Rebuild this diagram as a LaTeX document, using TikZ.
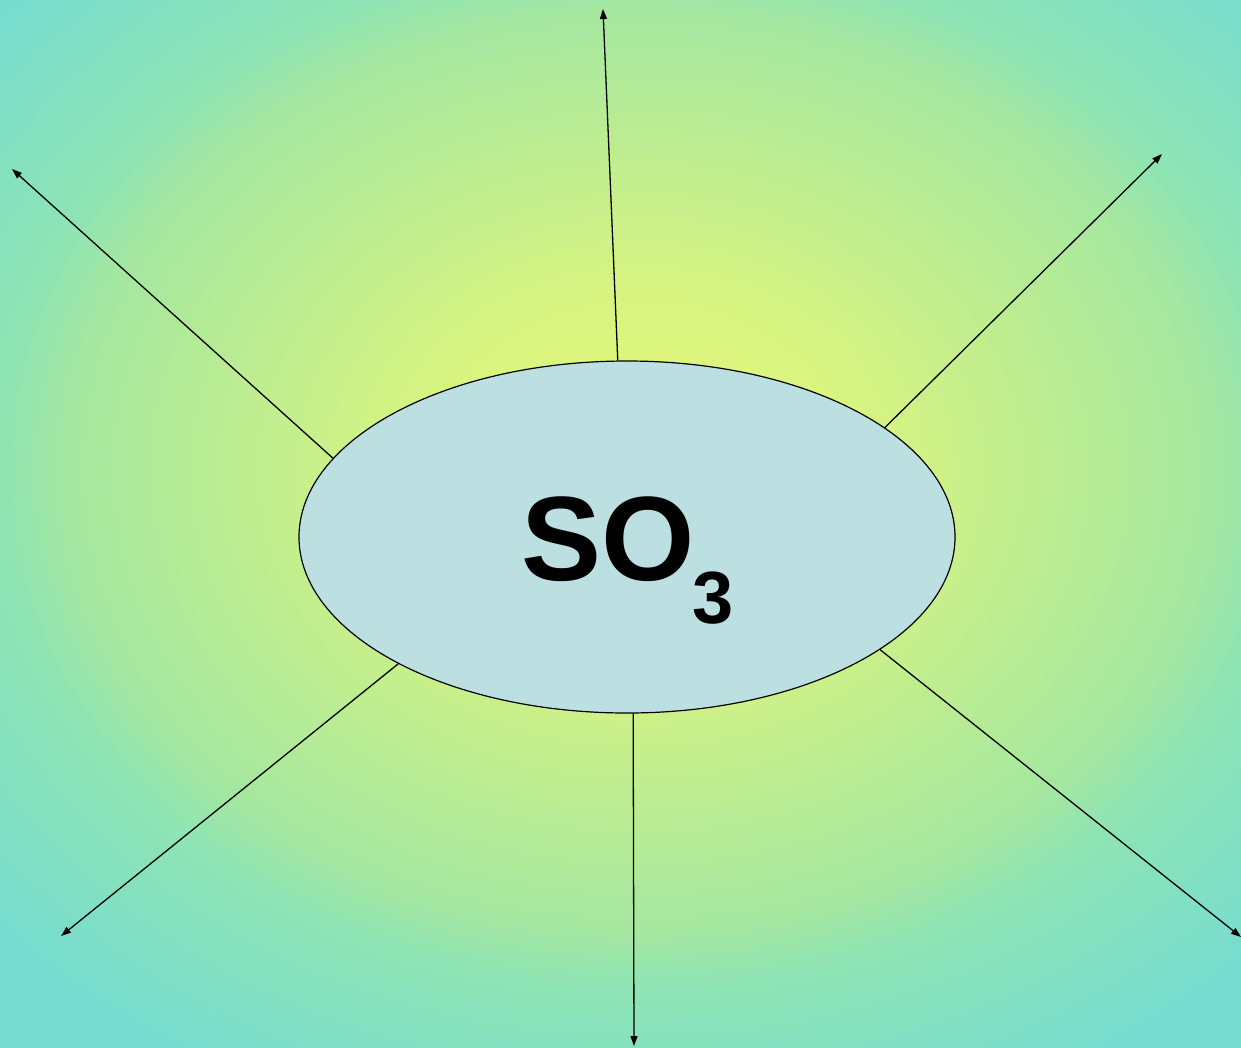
\documentclass[tikz,border=0pt]{standalone}
\usepackage{fontspec}
\setmainfont{Liberation Sans}
\usetikzlibrary{arrows.meta,shapes.geometric}
\definecolor{glowyellow}{RGB}{230,248,120}
\definecolor{glowlime}{RGB}{216,244,128}
\definecolor{glowgreen}{RGB}{165,231,160}
\definecolor{glowmint}{RGB}{142,228,180}
\definecolor{glowteal}{RGB}{118,220,208}
\definecolor{oxblue}{RGB}{188,224,226}
\pgfdeclareradialshading{bgglow}{\pgfpoint{0bp}{0bp}}{%
  color(0bp)=(glowyellow); color(12bp)=(glowlime); color(31bp)=(glowgreen);
  color(35bp)=(glowmint); color(47bp)=(glowteal); color(50bp)=(glowteal)}
\tikzset{
  molecule/.style={ellipse,draw=black,line width=1.2pt,fill=oxblue,
    minimum width=656pt,minimum height=352pt,inner sep=0pt},
  formula/.style={anchor=base west,inner sep=0pt,font=\bfseries},
  ray/.style={-{Triangle[length=10pt,width=7pt]},line width=1.3pt,draw=black}
}

\begin{document}
\begin{tikzpicture}[x=1pt,y=-1pt]
  \useasboundingbox (0,0) rectangle (1241,1047);
  % background glow
  \begin{scope}
    \clip (-4,-4) rectangle (1245,1051);
    \fill[glowteal] (-4,-4) rectangle (1245,1051);
    \node[inner sep=0pt,xscale=18.33,yscale=14.74,transform shape] (glow)
      at (640,470) {\pgfuseshading{bgglow}};
  \end{scope}
  \node[molecule] (so3) at (627,537) {};
  \node[formula] (name) at (521,580)
    {\fontsize{120}{120}\selectfont SO\kern-2pt\raisebox{-43pt}{\fontsize{74}{74}\selectfont 3}};
  % free ends of the rays
  \coordinate (tipN) at (603,9);
  \coordinate (tipNE) at (1162,154);
  \coordinate (tipNW) at (12,169);
  \coordinate (tipSW) at (61,936);
  \coordinate (tipS) at (634,1046);
  \coordinate (tipSE) at (1241,937);
  \draw[ray] (so3.93) -- (tipN);
  \draw[ray] (so3.23) -- (tipNE);
  \draw[ray] (so3.165) -- (tipNW);
  \draw[ray] (so3.209) -- (tipSW);
  \draw[ray] (so3.272) -- (tipS);
  \draw[ray] (so3.336) -- (tipSE);
\end{tikzpicture}
\end{document}
